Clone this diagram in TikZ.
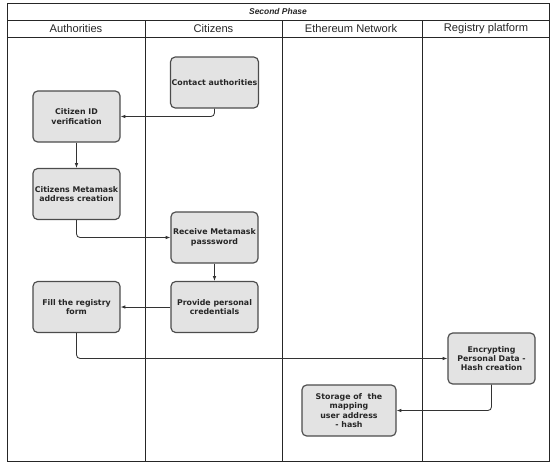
\documentclass[tikz,border=0pt]{standalone}
\usepackage{fontspec}
\setmainfont{DejaVu Sans}
\newfontfamily\headfont{Liberation Sans}
\usetikzlibrary{arrows.meta}

\begin{document}
\begin{tikzpicture}[x=0.03cm, y=-0.03cm,
    stepbox/.style={draw=black!70, fill=black!11, rounded corners=4pt, line width=1pt,
        minimum width=2.61cm, minimum height=1.53cm, align=center,
        font=\fontsize{6.7}{8}\selectfont\bfseries, text=black!85, inner sep=1pt},
    flow/.style={draw=black!80, line width=0.7pt, rounded corners=3pt, -{Latex[length=4pt,width=3pt]}},
    lane/.style={draw=black!85, line width=0.8pt},
    head/.style={font=\headfont\fontsize{9.5}{11}\selectfont, text=black!85}]
    \useasboundingbox (0,0) rectangle (554,464);
    % pool and lanes
    \draw [lane] (7,3) rectangle (549,461);
    \draw [lane] (7,20) -- (549,20);
    \draw [lane] (7,37) -- (549,37);
    \draw [lane] (145,20) -- (145,461);
    \draw [lane] (282,20) -- (282,461);
    \draw [lane] (422,20) -- (422,461);
    \node [head, font=\headfont\fontsize{7.2}{8}\selectfont\bfseries\itshape] (phase) at (278,11.5) {Second Phase};
    \node [head] (hauth) at (76,28.5) {Authorities};
    \node [head] (hcit) at (213.5,28.5) {Citizens};
    \node [head] (heth) at (351,28.5) {Ethereum Network};
    \node [head] (hreg) at (486,28.5) {Registry platform};
    % steps
    \node [stepbox] (contact) at (214.5,82.5) {Contact authorities};
    \node [stepbox] (citid) at (76.5,116.5) {Citizen ID\\verification};
    \node [stepbox] (metaaddr) at (76.5,194) {Citizens Metamask\\address creation};
    \node [stepbox] (receive) at (214.5,237.5) {Receive Metamask\\passsword};
    \node [stepbox] (provide) at (214.5,307) {Provide personal\\credentials};
    \node [stepbox] (fillform) at (76.5,307) {Fill the registry\\form};
    \node [stepbox] (encrypt) at (491.5,358.5) {Encrypting\\Personal Data -\\Hash creation};
    \node [stepbox, minimum width=2.82cm] (storage) at (349,410.5) {Storage of \ the\\mapping\\user address\\ - hash};
    % connectors
    \draw [flow] (contact.south) |- (citid.east);
    \draw [flow] (citid) -- (metaaddr);
    \draw [flow] (metaaddr.south) |- (receive.west);
    \draw [flow] (receive) -- (provide);
    \draw [flow] (provide) -- (fillform);
    \draw [flow] (fillform.south) |- (encrypt.west);
    \draw [flow] (encrypt.south) |- (storage.east);
\end{tikzpicture}
\end{document}
